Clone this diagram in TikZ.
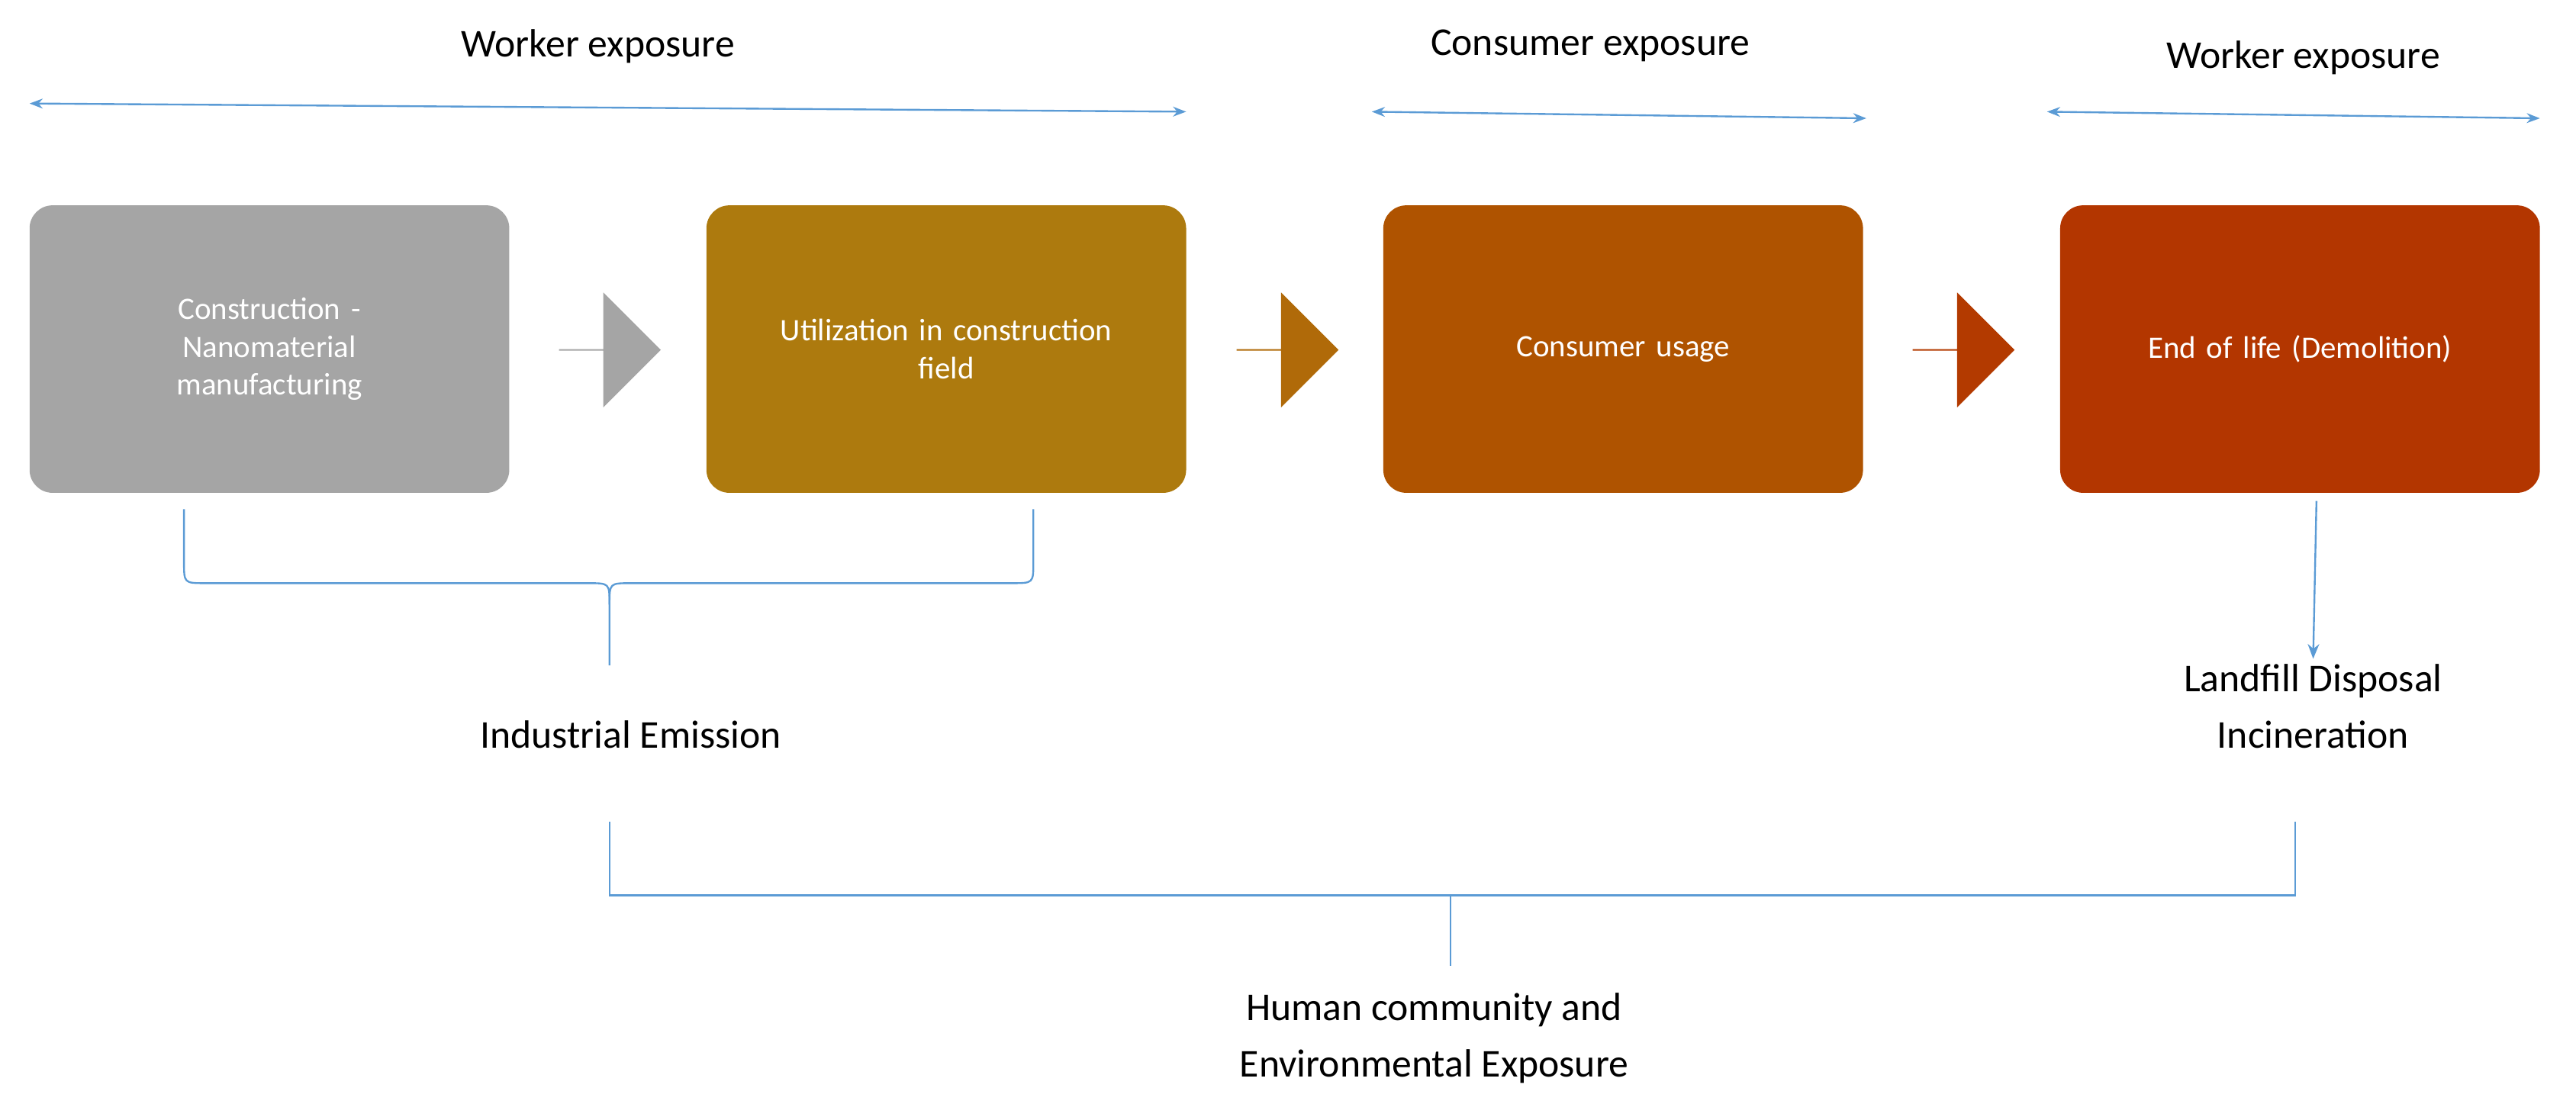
\documentclass[tikz,border=0pt]{standalone}
\usepackage{fontspec}
\setmainfont{Carlito}
\usetikzlibrary{shapes.arrows,arrows.meta}
\definecolor{lblue}{HTML}{5B9BD5}
\definecolor{cgray}{HTML}{A5A5A5}
\definecolor{cgold}{HTML}{AD7A0E}
\definecolor{corange}{HTML}{AF5300}
\definecolor{cred}{HTML}{B33600}
\definecolor{agold}{HTML}{B06A09}
\definecolor{ared}{HTML}{B33A00}
\begin{document}
\begin{tikzpicture}[x=1pt,y=-1pt,
  box/.style={draw=none,rounded corners=14pt,minimum width=292pt,minimum height=175pt,text width=270pt,align=center,text=white,font=\fontsize{19}{23}\selectfont},
  barrow/.style={single arrow,draw=none,minimum width=70pt,single arrow head extend=15pt,minimum height=62pt,inner sep=0pt,single arrow tip angle=90},
  lbl/.style={font=\fontsize{24}{34}\selectfont,align=center},
  ln/.style={draw=lblue,line width=1.1pt},
  dbl/.style={ln,{Stealth[length=8pt,width=6pt]}-{Stealth[length=8pt,width=6pt]}}]
\useasboundingbox (0,0) rectangle (1568,672);
\node[box,fill=cgray] (b1) at (164,212.5) {Construction -\\Nanomaterial\\manufacturing};
\node[box,fill=cgold] (b2) at (576,212.5) {Utilization in construction\\field};
\node[box,fill=corange] (b3) at (988,212.5) {Consumer usage};
\node[box,fill=cred] (b4) at (1400,212.5) {End of life (Demolition)};
\node[barrow,fill=cgray] (a1) at (371,213) {};
\node[barrow,fill=agold] (a2) at (783.5,213) {};
\node[barrow,fill=ared] (a3) at (1195,213) {};
\node[lbl] (w1) at (364,28) {Worker exposure};
\node[lbl] (c1) at (968,28) {Consumer exposure};
\node[lbl] (w2) at (1402,35) {Worker exposure};
\coordinate (d1a) at (18,63); \coordinate (d1b) at (722,68);
\coordinate (d2a) at (835,68); \coordinate (d2b) at (1136,72);
\coordinate (d3a) at (1246,68); \coordinate (d3b) at (1546,72);
\draw[dbl] (d1a) -- (d1b);
\draw[dbl] (d2a) -- (d2b);
\draw[dbl] (d3a) -- (d3b);
\coordinate (bl) at (112,310); \coordinate (br) at (629,310); \coordinate (bc) at (371,405);
\draw[ln] (bl) -- (112,342) .. controls (112,355) .. (125,355) -- (358,355) .. controls (371,355) .. (371,368) -- (bc);
\draw[ln] (br) -- (629,342) .. controls (629,355) .. (616,355) -- (384,355) .. controls (371,355) .. (371,368);
\node[lbl] (ie) at (384,447) {Industrial Emission};
\node[lbl] (ld) at (1408,430) {Landfill Disposal\\Incineration};
\coordinate (e4) at (1410,305);
\draw[ln,-{Stealth[length=9pt,width=7pt]}] (e4) -- (ld.north);
\coordinate (p1) at (371,500); \coordinate (p2) at (1397,500);
\draw[ln] (p1) -- (371,545) -- (1397,545) -- (p2);
\node[lbl] (hc) at (873,632) {Human community and\\Environmental Exposure};
\draw[ln] (883,545) -- (883,588);
\end{tikzpicture}
\end{document}
